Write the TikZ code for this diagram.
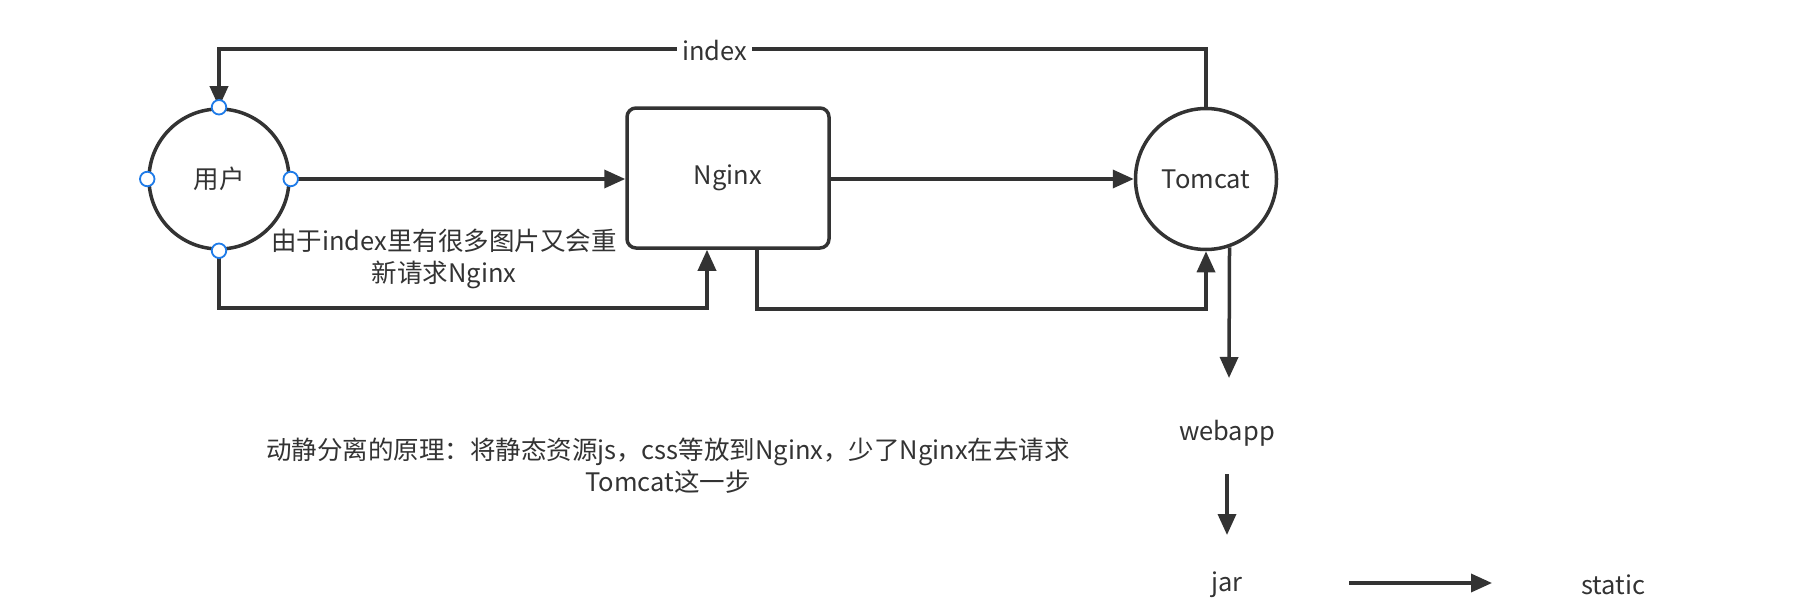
\documentclass[tikz,border=0pt]{standalone}
\usepackage{fontspec}
\setmainfont{Noto Sans CJK SC}
\usetikzlibrary{arrows.meta,calc}
\definecolor{ink}{HTML}{333333}
\definecolor{handle}{HTML}{1E7BE8}
\tikzset{
  conn/.style={draw=ink,line width=3.5pt,-{Triangle[length=21pt,width=18pt]}},
  shapebox/.style={draw=ink,line width=3.5pt,fill=white,text=ink,font=\fontsize{25.5}{32}\selectfont},
  lbl/.style={text=ink,font=\fontsize{25.5}{32}\selectfont,inner sep=0pt,align=center},
  hdl/.style={circle,draw=handle,fill=white,line width=1.8pt,minimum size=14.5pt,inner sep=0pt},
}
\begin{document}
\begin{tikzpicture}[x=1pt,y=-1pt]
\useasboundingbox[fill=white] (0,0) rectangle (1808,610);
% shapes
\node[shapebox,circle,minimum size=140pt,inner sep=0pt] (u) at (219,179) {用户};
\node[shapebox,rectangle,rounded corners=9pt,minimum width=202pt,minimum height=140pt] (n) at (728,178) {Nginx};
\node[shapebox,circle,minimum size=141pt,inner sep=0pt] (t) at (1206,179) {Tomcat};
% plain texts
\node[lbl] (webapp) at (1227,433) {webapp};
\node[lbl] (jar) at (1227,585) {jar};
\node[lbl] (static) at (1613,585) {static};
\node[lbl] (note) at (444,259) {由于index里有很多图片又会重\\新请求Nginx};
\node[lbl] (principle) at (668,466) {动静分离的原理：将静态资源js，css等放到Nginx，少了Nginx在去请求\\Tomcat这一步};
% helper coordinates
\coordinate (top) at (219,49);
\coordinate (b1) at (707,308);
\coordinate (b2) at (757,309);
\coordinate (tdown) at (1229,378);
% connectors
\draw[conn] (t.north) |- (top) -- (u.north);
\node[lbl,fill=white,inner xsep=5pt,inner ysep=2pt] (idx) at (714.5,51) {index};
\draw[conn] (u.east) -- (u.east -| n.west);
\draw[conn] (n.east |- t.west) -- (t.west);
\draw[conn] (u.south) |- (b1) -- (b1 |- n.south);
\draw[conn] (b2 |- n.south) -- (b2) -| (t.south);
\draw[conn] (t.-71) -- (tdown);
\draw[conn] ($(webapp.center)+(0,41)$) -- ($(jar.center)+(0,-50)$);
\draw[conn] ($(jar.center)+(122,-2)$) -- ($(static.center)+(-121,-2)$);
% handles on user
\foreach \a in {north,south,east,west} \node[hdl] at (u.\a) {};
\end{tikzpicture}
\end{document}
